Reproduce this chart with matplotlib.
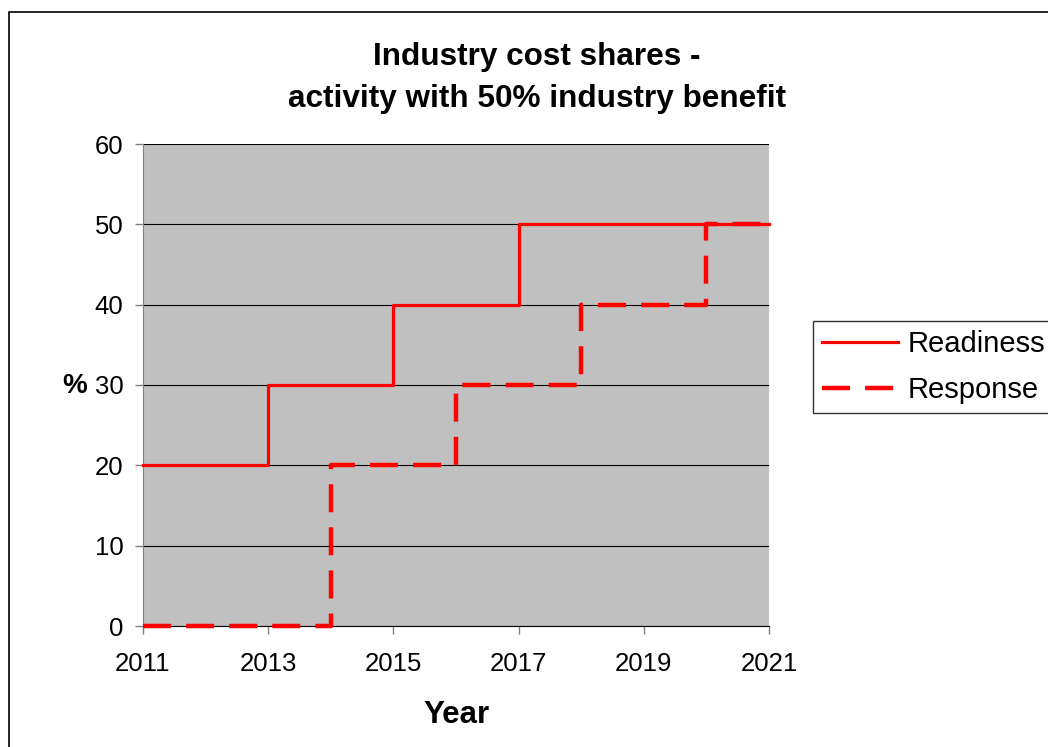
import matplotlib.pyplot as plt
from matplotlib.patches import Rectangle

years = [2011, 2012, 2013, 2014, 2015, 2016, 2017, 2018, 2019, 2020, 2021]
readiness = [20, 20, 30, 30, 40, 40, 50, 50, 50, 50, 50]
response = [0, 0, 0, 20, 20, 30, 30, 40, 40, 50, 50]
x_ticks = [2011, 2013, 2015, 2017, 2019, 2021]
y_ticks = [0, 10, 20, 30, 40, 50, 60]

plt.rcParams['font.family'] = ['Liberation Sans', 'DejaVu Sans']

W, H = 1048, 747
fig = plt.figure(figsize=(W/100, H/100), dpi=100)
ax = fig.add_axes([143/W, 1 - 626/H, (769 - 143)/W, (626 - 144)/H])
ax.set_facecolor('#C0C0C0')

# outer chart border (runs off the right and bottom)
fig.patches.append(Rectangle((9/W, -0.05), 1.1, 1 - 12/H + 0.05,
                             transform=fig.transFigure, fill=False,
                             edgecolor='black', linewidth=1.2))

ax.step(years, readiness, where='post', color='#FF0000', lw=2.3,
        label='Readiness', zorder=3, clip_on=False)
ax.step(years, response, where='post', color='#FF0000', lw=3.2,
        linestyle=(0, (6.3, 3.4)), label='Response', zorder=3, clip_on=False)

ax.set_xlim(2011, 2021)
ax.set_ylim(0, 60)
ax.set_xticks(x_ticks)
ax.set_yticks(y_ticks)
ax.yaxis.grid(True, color='black', linewidth=0.8)
ax.set_axisbelow(True)
for s in ['top', 'right']:
    ax.spines[s].set_visible(False)
ax.spines['left'].set_color('#808080')
ax.spines['bottom'].set_color('black')
ax.tick_params(axis='both', direction='out', length=6, width=1, color='#808080',
               labelsize=18.5)
ax.tick_params(axis='x', pad=13)
ax.tick_params(axis='y', pad=8)

fig.text(537/W, 1 - 57/H, 'Industry cost shares -', fontsize=22.7,
         fontweight='bold', ha='center', va='center')
fig.text(537/W, 1 - 99/H, 'activity with 50% industry benefit', fontsize=22.7,
         fontweight='bold', ha='center', va='center')
fig.text(456/W, 1 - 715/H, 'Year', fontsize=22.5, fontweight='bold',
         ha='center', va='center')
fig.text(75/W, 1 - 386/H, '%', fontsize=20, fontweight='bold',
         ha='center', va='center')

leg = ax.legend(loc='center left', bbox_to_anchor=(813/W, 1 - 367/H),
                bbox_transform=fig.transFigure, fontsize=21, frameon=True,
                fancybox=False, edgecolor='black', handlelength=2.6,
                borderaxespad=0, labelspacing=0.62, borderpad=0.3,
                handletextpad=0.35)
leg.get_frame().set_linewidth(1.0)

fig.savefig('out.png', dpi=100)
